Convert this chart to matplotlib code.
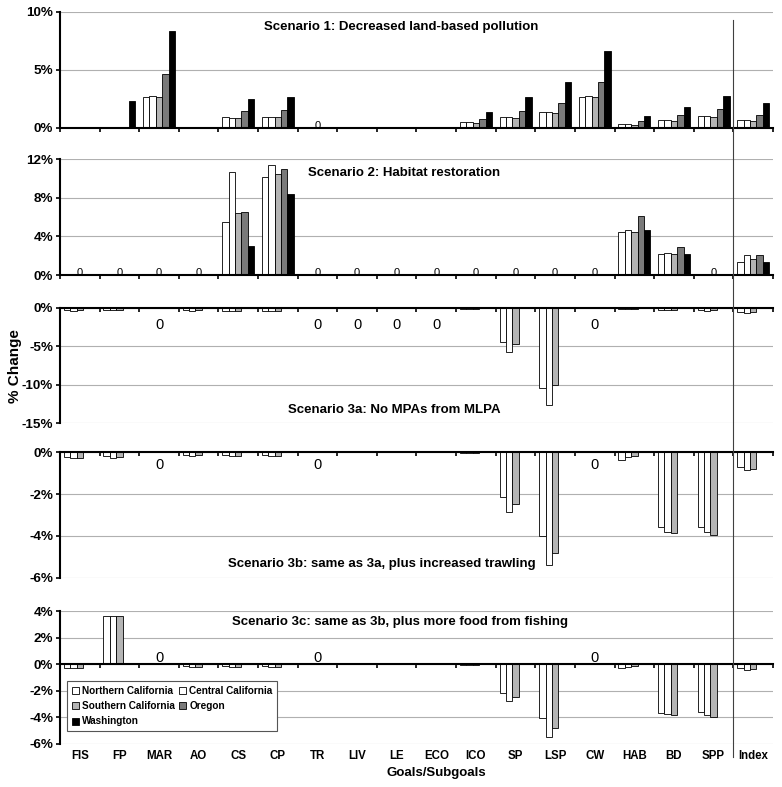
import matplotlib
matplotlib.use('Agg')
import matplotlib.pyplot as plt
import numpy as np
from matplotlib.lines import Line2D
from matplotlib.patches import Patch

plt.rcParams['font.family'] = ['Liberation Sans', 'DejaVu Sans']

cats = ['FIS', 'FP', 'MAR', 'AO', 'CS', 'CP', 'TR', 'LIV', 'LE', 'ECO',
        'ICO', 'SP', 'LSP', 'CW', 'HAB', 'BD', 'SPP', 'Index']
regions = ['Northern California', 'Central California', 'Southern California',
           'Oregon', 'Washington']

# Scenario 1: decreased land-based pollution (% change)
s1_north = [0, 0.05, 2.71, 0, 0.94, 0.94, 0, 0, 0, 0, 0.51, 0.94, 1.34, 2.68, 0.37, 0.71, 1.03, 0.69]
s1_central = [0, 0.05, 2.77, 0, 0.86, 0.94, 0, 0, 0, 0, 0.51, 0.94, 1.34, 2.74, 0.37, 0.71, 1.03, 0.69]
s1_south = [0, 0.05, 2.66, 0, 0.86, 0.94, 0, 0, 0, 0, 0.43, 0.86, 1.29, 2.66, 0.28, 0.63, 0.94, 0.60]
s1_oregon = [0, 0.05, 4.66, 0, 1.48, 1.51, 0, 0, 0, 0, 0.77, 1.48, 2.14, 3.97, 0.60, 1.08, 1.63, 1.08]
s1_wash = [0, 2.37, 8.37, 0, 2.54, 2.66, 0, 0, 0, 0, 1.34, 2.66, 3.94, 6.66, 1.00, 1.85, 2.74, 2.17]
s1_zeros = ['TR']

# Scenario 2: habitat restoration
s2_north = [0, 0, 0, 0, 5.45, 10.18, 0, 0, 0, 0, 0, 0, 0, 0, 4.41, 2.16, 0, 1.39]
s2_central = [0, 0, 0, 0, 10.70, 11.43, 0, 0, 0, 0, 0, 0, 0, 0, 4.61, 2.26, 0, 2.05]
s2_south = [0, 0, 0, 0, 6.42, 10.49, 0, 0, 0, 0, 0, 0, 0, 0, 4.45, 2.20, 0, 1.67]
s2_oregon = [0, 0, 0, 0, 6.56, 10.94, 0, 0, 0, 0, 0, 0, 0, 0, 6.07, 2.88, 0, 2.11]
s2_wash = [0, 0, 0, 0, 3.02, 8.33, 0, 0, 0, 0, 0, 0, 0, 0, 4.61, 2.16, 0, 1.35]
s2_zeros = ['FIS', 'FP', 'MAR', 'AO', 'TR', 'LIV', 'LE', 'ECO', 'ICO', 'SP', 'LSP', 'CW', 'SPP']

# Scenario 3a: no MPAs from MLPA (California only)
s3a_north = [-0.30, -0.30, 0, -0.30, -0.40, -0.40, 0, 0, 0, 0, -0.10, -4.40, -10.40, 0, -0.10, -0.20, -0.25, -0.50]
s3a_central = [-0.35, -0.30, 0, -0.35, -0.45, -0.45, 0, 0, 0, 0, -0.10, -5.77, -12.70, 0, -0.10, -0.20, -0.40, -0.65]
s3a_south = [-0.30, -0.30, 0, -0.30, -0.40, -0.40, 0, 0, 0, 0, -0.10, -4.73, -10.10, 0, -0.10, -0.20, -0.30, -0.55]
s3a_zeros = ['MAR', 'TR', 'LIV', 'LE', 'ECO', 'CW']

# Scenario 3b: same as 3a, plus increased trawling
s3b_north = [-0.24, -0.20, 0, -0.12, -0.13, -0.15, 0, 0, 0, 0, -0.05, -2.13, -4.02, 0, -0.36, -3.59, -3.59, -0.71]
s3b_central = [-0.28, -0.28, 0, -0.17, -0.20, -0.20, 0, 0, 0, 0, -0.05, -2.84, -5.40, 0, -0.24, -3.80, -3.82, -0.84]
s3b_south = [-0.27, -0.25, 0, -0.15, -0.17, -0.17, 0, 0, 0, 0, -0.05, -2.48, -4.79, 0, -0.20, -3.87, -3.96, -0.79]
s3b_zeros = ['MAR', 'TR', 'CW']

# Scenario 3c: same as 3b, plus more food from fishing
s3c_north = [-0.25, 3.64, 0, -0.15, -0.10, -0.15, 0, 0, 0, 0, -0.05, -2.14, -4.02, 0, -0.30, -3.64, -3.57, -0.25]
s3c_central = [-0.30, 3.64, 0, -0.20, -0.20, -0.20, 0, 0, 0, 0, -0.05, -2.76, -5.48, 0, -0.20, -3.77, -3.82, -0.40]
s3c_south = [-0.30, 3.64, 0, -0.20, -0.20, -0.20, 0, 0, 0, 0, -0.05, -2.46, -4.77, 0, -0.15, -3.84, -3.97, -0.35]
s3c_zeros = ['MAR', 'TR', 'CW']

W, H = 782, 787
fig = plt.figure(figsize=(W / 100, H / 100), dpi=100)

colors = ['white', 'white', '#b4b4b4', '#7a7a7a', 'black']
x = np.arange(len(cats))
bw = 0.1616
left_px, right_px = 60, 773
cat_px = (right_px - left_px) / len(cats)


def rect(top_px, bottom_px):
    return [left_px / W, 1 - bottom_px / H, (right_px - left_px) / W, (bottom_px - top_px) / H]


def panel(r, series, ylim, yticks, zeros, zero_dy, zero_fs):
    ax = fig.add_axes(r)
    for i, vals in enumerate(series):
        ax.bar(x + (i - 2) * bw, vals, width=bw, color=colors[i],
               edgecolor='black', linewidth=0.6, zorder=3)
    ax.set_xlim(-0.5, len(cats) - 0.5)
    ax.set_ylim(*ylim)
    ax.set_yticks(yticks)
    ax.set_yticklabels([f'{v:g}%' for v in yticks], fontweight='bold', fontsize=9.7)
    ax.yaxis.grid(True, color='#b0b0b0', lw=0.8)
    ax.set_axisbelow(True)
    ax.spines['top'].set_visible(False)
    ax.spines['right'].set_visible(False)
    ax.spines['bottom'].set_position(('data', 0))
    ax.spines['left'].set_linewidth(1.5)
    ax.spines['bottom'].set_linewidth(1.5)
    ax.spines['bottom'].set_zorder(4)
    ax.set_xticks(np.arange(len(cats) + 1) - 0.5)
    ax.tick_params(axis='x', direction='out', length=3, width=1.2, labelbottom=False)
    ax.tick_params(axis='y', direction='out', length=3, width=1.2, pad=2)
    for c in zeros:
        ax.annotate('0', (cats.index(c), 0), xytext=(0, zero_dy), textcoords='offset points',
                    ha='center', va='center', fontsize=zero_fs, zorder=5)
    return ax


panel(rect(12, 128), [s1_north, s1_central, s1_south, s1_oregon, s1_wash],
      (0, 10), [0, 5, 10], s1_zeros, 1.5, 8)
panel(rect(159, 275), [s2_north, s2_central, s2_south, s2_oregon, s2_wash],
      (0, 12), [0, 4, 8, 12], s2_zeros, 1.5, 8)
panel(rect(308, 423), [s3a_north, s3a_central, s3a_south],
      (-15, 0), [0, -5, -10, -15], s3a_zeros, -12, 10.5)
panel(rect(452, 578), [s3b_north, s3b_central, s3b_south],
      (-6, 0), [0, -2, -4, -6], s3b_zeros, -9.4, 10.5)
ax5 = panel(rect(611, 744), [s3c_north, s3c_central, s3c_south],
            (-6, 4), [4, 2, 0, -2, -4, -6], s3c_zeros, 4.3, 10.5)

# scenario titles
titles = [('Scenario 1: Decreased land-based pollution', 401, 27),
          ('Scenario 2: Habitat restoration', 404, 173),
          ('Scenario 3a: No MPAs from MLPA', 394, 410),
          ('Scenario 3b: same as 3a, plus increased trawling', 382, 564),
          ('Scenario 3c: same as 3b, plus more food from fishing', 400, 622)]
for t, tx, ty in titles:
    fig.text(tx / W, 1 - ty / H, t, ha='center', va='center', fontweight='bold', fontsize=9.5)

# category labels along the bottom
for i, c in enumerate(cats):
    fig.text((left_px + (i + 0.5) * cat_px) / W, 1 - 756 / H, c, ha='center', va='center',
             fontweight='bold', fontsize=8.3)
fig.text(436 / W, 1 - 773 / H, 'Goals/Subgoals', ha='center', va='center',
         fontweight='bold', fontsize=9.5)
fig.text(15 / W, 1 - 366 / H, '% Change', ha='center', va='center', rotation=90,
         fontweight='bold', fontsize=11)

# separator before the Index
xv = (left_px + 17 * cat_px) / W
fig.add_artist(Line2D([xv, xv], [1 - 20 / H, 1 - 757 / H], transform=fig.transFigure,
                      color='#404040', lw=0.8))

handles = [Patch(facecolor=colors[i], edgecolor='black', linewidth=0.6) for i in range(5)]
order = [0, 2, 4, 1, 3]
leg = ax5.legend([handles[i] for i in order], [regions[i] for i in order], ncol=2,
                 loc='upper left', bbox_to_anchor=(67 / W, 1 - 681 / H),
                 bbox_transform=fig.transFigure, fancybox=False, framealpha=1,
                 edgecolor='#555555', borderaxespad=0, handlelength=0.7, handleheight=0.7,
                 handletextpad=0.3, columnspacing=0.5, labelspacing=0.55, borderpad=0.45,
                 prop={'weight': 'bold', 'size': 7.2})
leg.get_frame().set_linewidth(0.8)
leg.set_zorder(6)

fig.savefig('out.png', dpi=100)
